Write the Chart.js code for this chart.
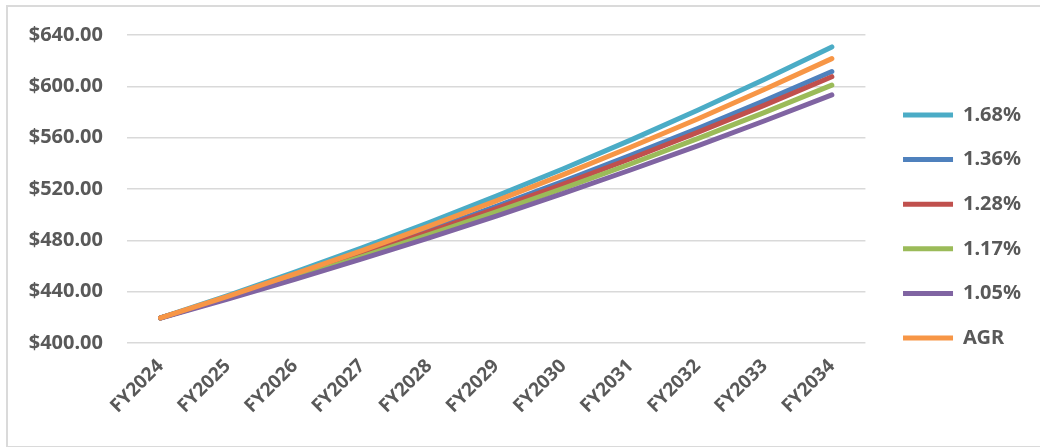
<!DOCTYPE html>
<html>
<head>
<meta charset="utf-8">
<script src="https://cdn.jsdelivr.net/npm/chart.js@4/dist/chart.umd.min.js"></script>
<style>
  html, body { margin: 0; padding: 0; background: #fff; }
  #wrap { position: relative; width: 1040px; height: 447px; overflow: hidden; }
  #frame { position: absolute; left: 6px; top: 5px; width: 1100px; height: 439px; border: 2px solid #dadada; pointer-events: none; }
  canvas { position: absolute; left: 0; top: 0; }
</style>
</head>
<body>
<div id="wrap">
  <canvas id="chart" width="1040" height="447"></canvas>
  <div id="frame"></div>
</div>
<script>
// =======================
// DATA
// =======================
const years = ["FY2024", "FY2025", "FY2026", "FY2027", "FY2028", "FY2029",
               "FY2030", "FY2031", "FY2032", "FY2033", "FY2034"];

const rate168 = [419.5, 437.0, 455.2, 474.1, 493.8, 514.4, 535.8, 558.1, 581.3, 605.5, 630.7];
const rate136 = [419.5, 435.6, 452.3, 469.7, 487.8, 506.5, 526.0, 546.2, 567.1, 588.9, 611.5];
const rate128 = [419.5, 435.3, 451.7, 468.8, 486.5, 504.8, 523.8, 543.6, 564.1, 585.4, 607.5];
const rate117 = [419.5, 434.9, 450.8, 467.3, 484.4, 502.1, 520.5, 539.5, 559.3, 579.7, 600.9];
const rate105 = [419.5, 434.3, 449.6, 465.5, 481.9, 498.9, 516.5, 534.8, 553.6, 573.2, 593.4];
const agr     = [419.5, 436.3, 453.8, 472.0, 491.0, 510.7, 531.2, 552.5, 574.6, 597.7, 621.6];

const seriesNames = ["1.68%", "1.36%", "1.28%", "1.17%", "1.05%", "AGR"];
const seriesColors = ["#4BACC6", "#4F81BD", "#C0504D", "#9BBB59", "#8064A2", "#F79646"];
const seriesData = [rate168, rate136, rate128, rate117, rate105, agr];

const yMin = 400, yMax = 640, yStep = 40;

const textColor = "#595959";
const gridColor = "#d9d9d9";
const fontFamily = "'Noto Sans', 'Liberation Sans', sans-serif";

// =======================
// CHART
// =======================
const datasets = seriesNames.map(function (name, i) {
  return {
    label: name,
    data: seriesData[i],
    borderColor: seriesColors[i],
    backgroundColor: seriesColors[i],
    borderWidth: 5,
    borderCapStyle: "round",
    borderJoinStyle: "round",
    pointRadius: 0,
    pointHoverRadius: 0,
    pointStyle: "line",
    tension: 0,
    // later series on top, like the original
    order: seriesNames.length - 1 - i
  };
});

const ctx = document.getElementById("chart");

new Chart(ctx, {
  type: "line",
  data: { labels: years, datasets: datasets },
  options: {
    responsive: false,
    animation: false,
    layout: { padding: { top: 6, right: 9, bottom: 0, left: 0 } },
    plugins: {
      tooltip: { enabled: false },
      legend: {
        position: "right",
        labels: {
          usePointStyle: true,
          pointStyleWidth: 50,
          padding: 24.6,
          color: textColor,
          font: { family: fontFamily, size: 20, weight: "bold" },
          sort: function (a, b) { return a.datasetIndex - b.datasetIndex; }
        }
      }
    },
    scales: {
      x: {
        offset: true,
        grid: { display: false },
        border: { display: false },
        ticks: {
          color: textColor,
          font: { family: fontFamily, size: 19, weight: "bold" },
          maxRotation: 45,
          minRotation: 45,
          padding: 4,
          autoSkip: false
        },
        afterFit: function (scale) { scale.height = 104; }
      },
      y: {
        min: yMin,
        max: yMax,
        grid: { color: gridColor, lineWidth: 1.5, drawTicks: false },
        border: { display: false },
        ticks: {
          stepSize: yStep,
          padding: 24,
          color: textColor,
          font: { family: fontFamily, size: 20, weight: "bold" },
          callback: function (v) { return "$" + v.toFixed(2); }
        },
        afterFit: function (scale) {
          scale.width = 127;
          scale.paddingTop = 35;
        }
      },
      // empty spacer between plot and legend
      gap: {
        type: "linear",
        position: "right",
        display: true,
        grid: { display: false },
        border: { display: false },
        ticks: { display: false },
        afterFit: function (scale) { scale.width = 13; }
      }
    }
  }
});
</script>
</body>
</html>
